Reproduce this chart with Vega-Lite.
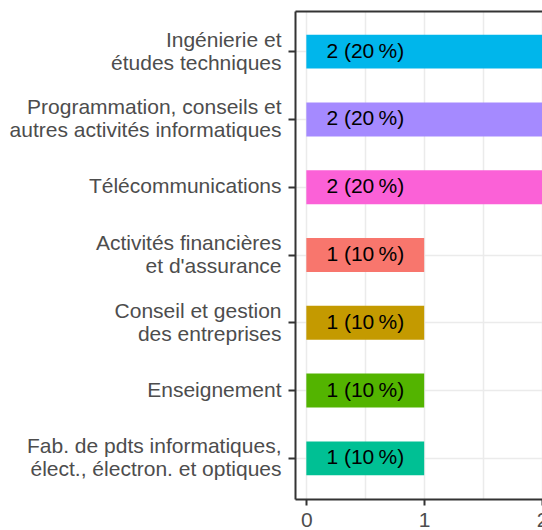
{
  "$schema": "https://vega.github.io/schema/vega-lite/v6.json",
  "autosize": "none",
  "width": 247,
  "height": 488,
  "padding": {"left": 295, "top": 11, "right": 0, "bottom": 31},
  "background": "white",
  "config": {
    "view": {"stroke": null},
    "font": "Liberation Sans",
    "axis": {"labelFont": "Liberation Sans", "labelFontSize": 21, "labelColor": "#4d4d4d", "tickColor": "#333333", "tickWidth": 2, "domainColor": "#333333", "domainWidth": 2, "gridColor": "#ebebeb", "gridWidth": 1.5}
  },
  "data": {
    "values": [
      {"secteur": "Ingénierie et\nétudes techniques", "n": 2, "label": "2 (20\u202f%)"},
      {"secteur": "Programmation, conseils et\nautres activités informatiques", "n": 2, "label": "2 (20\u202f%)"},
      {"secteur": "Télécommunications", "n": 2, "label": "2 (20\u202f%)"},
      {"secteur": "Activités financières\net d'assurance", "n": 1, "label": "1 (10\u202f%)"},
      {"secteur": "Conseil et gestion\ndes entreprises", "n": 1, "label": "1 (10\u202f%)"},
      {"secteur": "Enseignement", "n": 1, "label": "1 (10\u202f%)"},
      {"secteur": "Fab. de pdts informatiques,\nélect., électron. et optiques", "n": 1, "label": "1 (10\u202f%)"}
    ]
  },
  "encoding": {
    "y": {
      "field": "secteur", "type": "nominal", "sort": null,
      "scale": {"paddingInner": 0.5, "paddingOuter": 0.35},
      "axis": {"title": null, "labelExpr": "split(datum.label, '\\n')", "labelLineHeight": 23, "labelAlign": "right", "labelBaseline": "middle", "labelOffset": {"condition": {"test": "indexof(datum.value, '\\n') >= 0", "value": -11}, "value": 0}, "tickSize": 7, "labelPadding": 7, "grid": true, "tickBand": "center", "labelLimit": 400}
    }
  },
  "layer": [
    {
      "mark": {"type": "bar"},
      "encoding": {
        "x": {
          "field": "n", "type": "quantitative",
          "scale": {"domain": [-0.0963, 2], "nice": false, "zero": false},
          "axis": {"title": null, "values": [0, 0.5, 1, 1.5, 2], "labelExpr": "datum.value % 1 === 0 ? format(datum.value, 'd') : ''", "tickOpacity": {"condition": {"test": "datum.value % 1 === 0", "value": 1}, "value": 0}, "tickSize": 6, "labelPadding": 4, "grid": true, "labelFlush": false, "labelOverlap": false}
        },
        "x2": {"datum": 0},
        "color": {
          "field": "secteur", "type": "nominal", "legend": null,
          "scale": {
            "domain": ["Ingénierie et\nétudes techniques", "Programmation, conseils et\nautres activités informatiques", "Télécommunications", "Activités financières\net d'assurance", "Conseil et gestion\ndes entreprises", "Enseignement", "Fab. de pdts informatiques,\nélect., électron. et optiques"],
            "range": ["#00B6EB", "#A58AFF", "#FB61D7", "#F8766D", "#C49A00", "#53B400", "#00C094"]
          }
        }
      }
    },
    {
      "mark": {"type": "text", "fontSize": 21, "font": "Liberation Sans", "color": "black", "align": "center", "baseline": "middle"},
      "encoding": {
        "x": {"datum": 0.5, "type": "quantitative", "axis": {"orient": "top", "title": null, "labels": false, "ticks": false, "grid": false, "domain": true}},
        "text": {"field": "label"}
      }
    }
  ],
  "resolve": {"axis": {"x": "independent"}}
}
